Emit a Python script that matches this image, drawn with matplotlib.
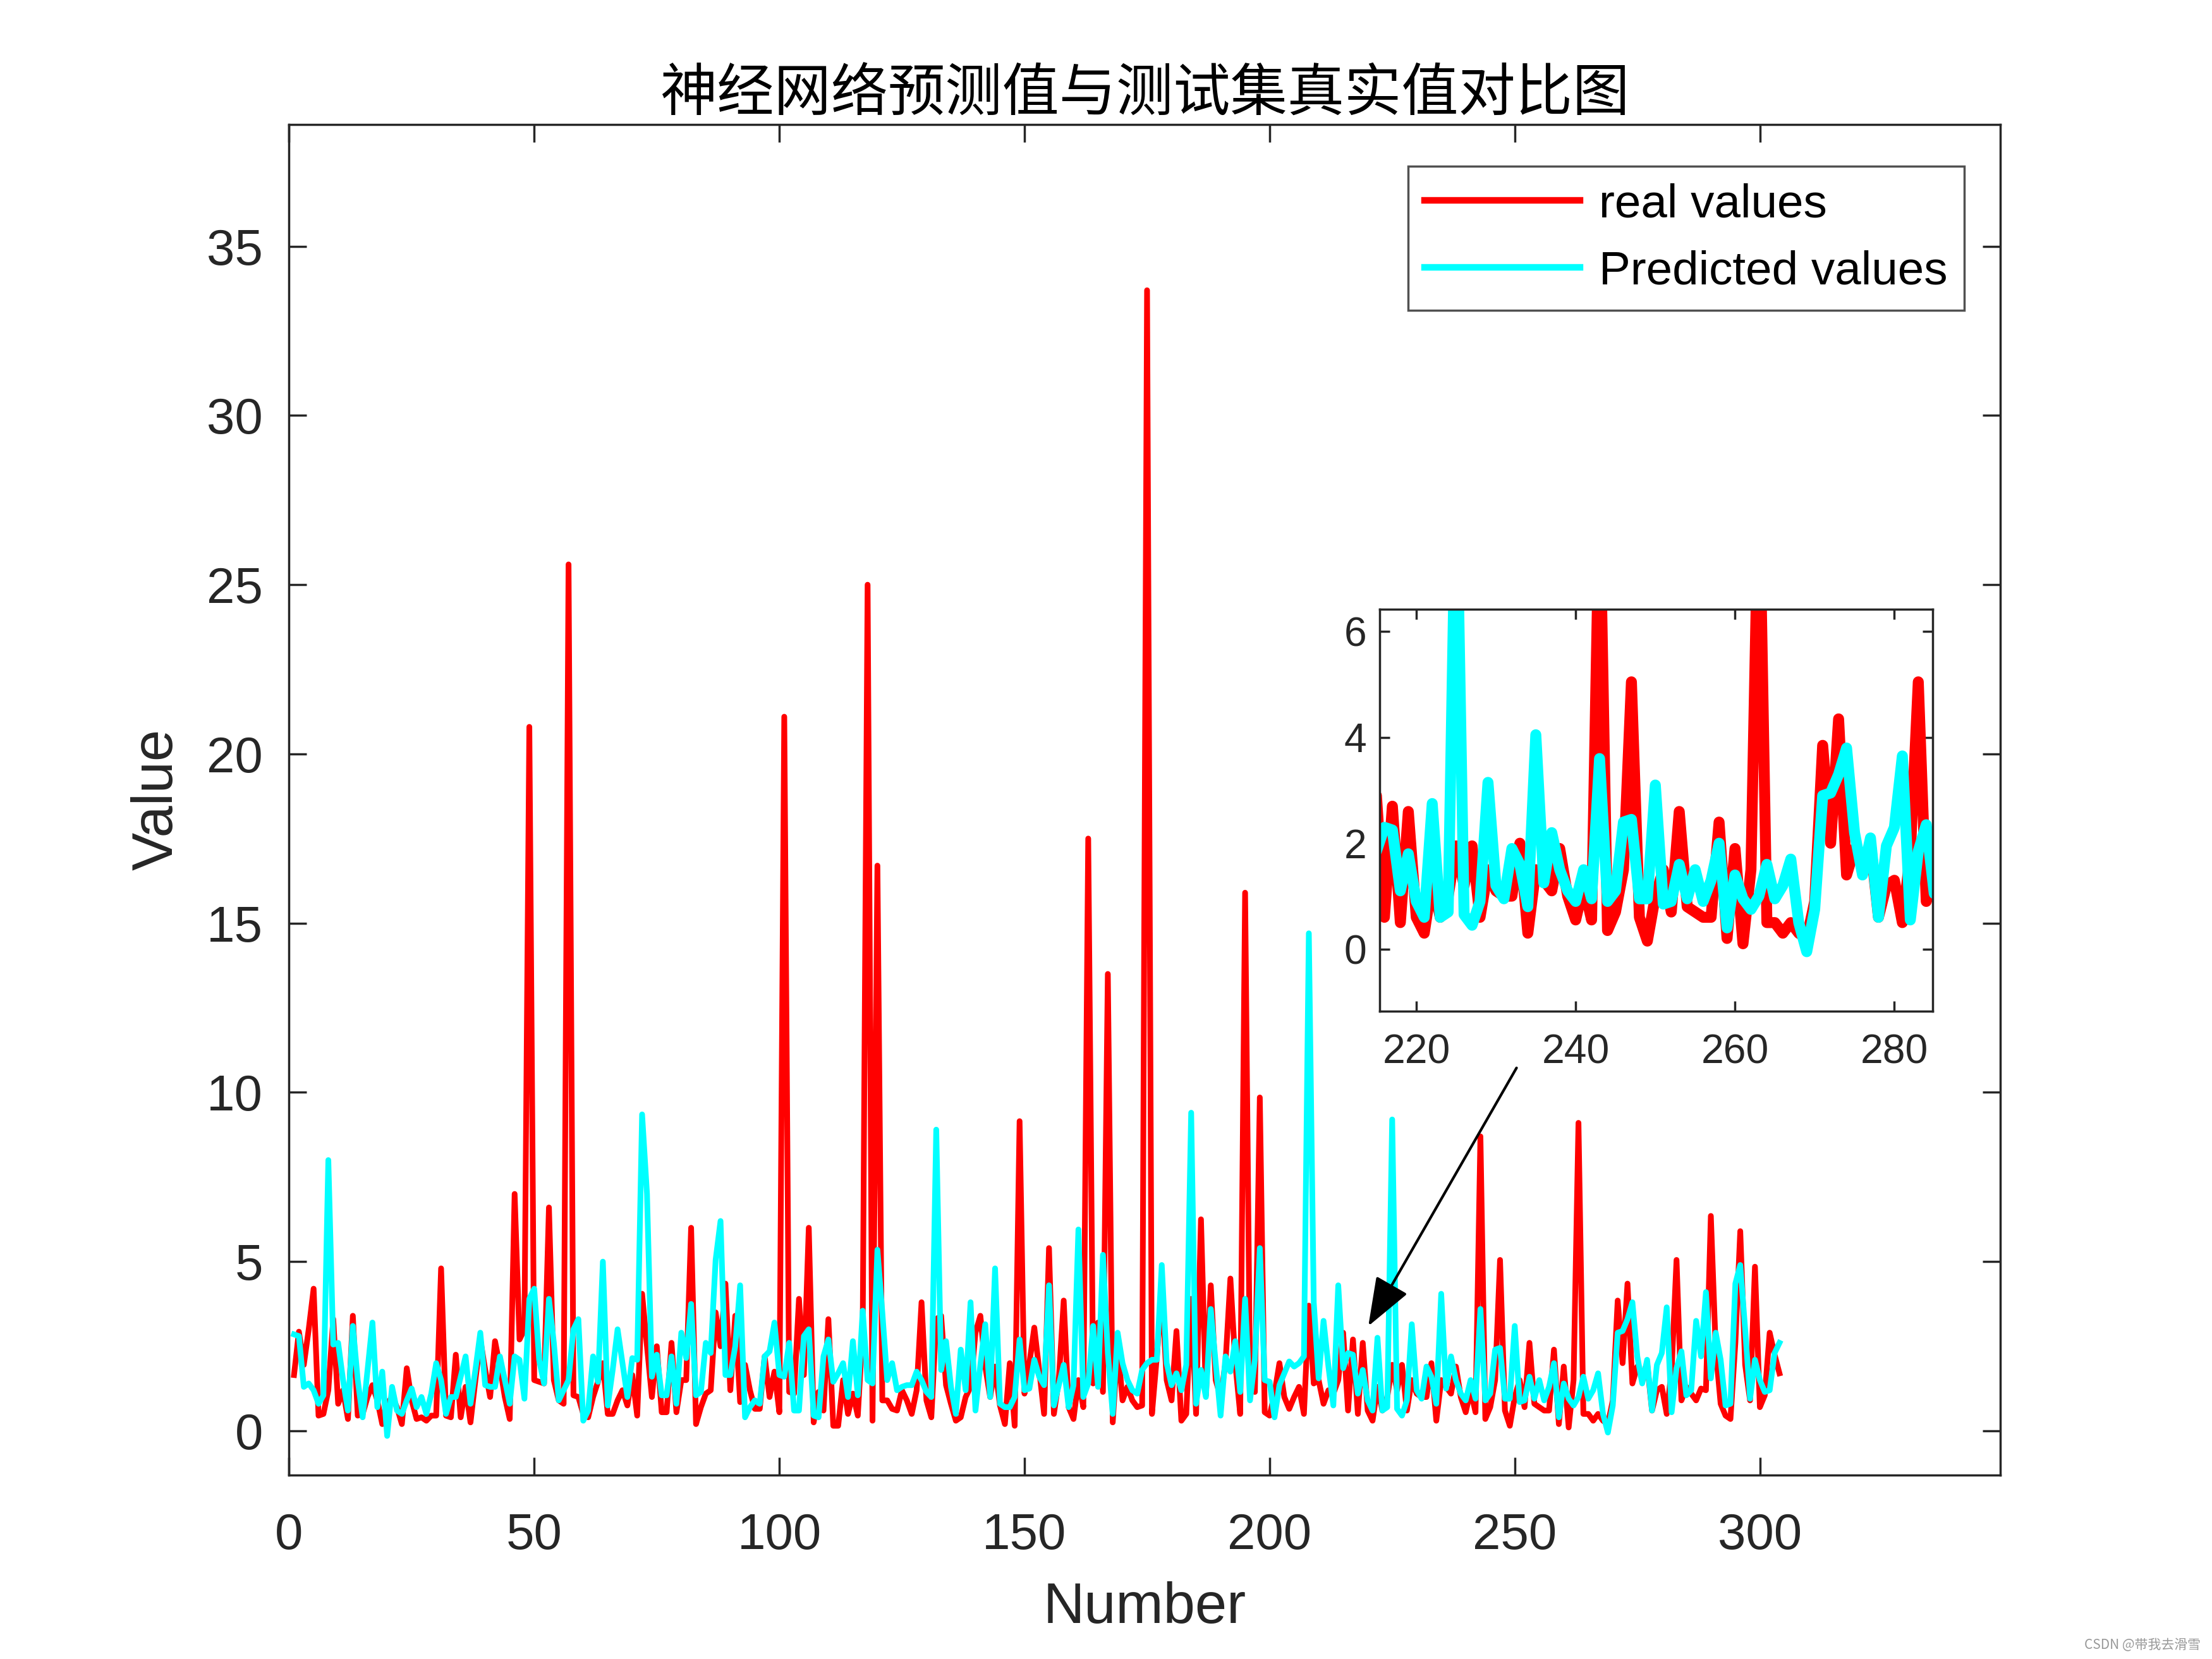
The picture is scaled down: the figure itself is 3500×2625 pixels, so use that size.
import matplotlib
matplotlib.use('Agg')
import matplotlib.pyplot as plt

# 测试集真实值 (real values), index 1..304
real_values = [
    1.65, 2.93, 1.95, 3.0, 4.2, 0.45, 0.5, 1.2, 3.3, 0.8,
    1.2, 0.35, 3.4, 0.45, 0.5, 1.0, 1.35, 0.9, 0.2, 0.8,
    1.0, 0.7, 0.2, 1.85, 0.9, 0.35, 0.4, 0.3, 0.45, 0.45,
    4.8, 0.45, 0.4, 2.25, 0.4, 1.3, 0.25, 1.5, 2.7, 1.8,
    1.0, 2.65, 1.9, 1.0, 0.35, 7.0, 2.7, 3.0, 20.8, 1.5,
    1.45, 1.4, 6.6, 1.5, 0.9, 0.8, 25.6, 1.05, 1.0, 0.5,
    0.4, 1.0, 1.45, 2.0, 0.5, 0.5, 0.9, 1.2, 0.75, 1.65,
    0.45, 4.05, 2.5, 1.0, 2.5, 0.55, 0.55, 2.6, 0.55, 1.5,
    1.5, 6.0, 0.2, 0.7, 1.1, 1.2, 3.5, 2.5, 4.35, 1.2,
    3.4, 0.85, 1.95, 1.2, 0.65, 0.65, 2.2, 1.0, 1.75, 0.55,
    21.1, 1.15, 1.1, 3.9, 1.65, 6.0, 0.25, 1.15, 0.6, 3.3,
    0.15, 0.15, 1.5, 0.5, 1.1, 0.45, 3.0, 25.0, 0.3, 16.7,
    0.9, 0.9, 0.65, 0.6, 1.2, 0.9, 0.5, 1.2, 3.8, 0.9,
    0.4, 3.3, 3.4, 1.35, 0.8, 0.3, 0.4, 1.0, 1.3, 2.9,
    3.4, 1.9, 1.0, 1.9, 0.75, 0.2, 2.0, 0.15, 9.15, 1.1,
    2.0, 3.05, 1.8, 0.5, 5.4, 0.5, 1.5, 3.85, 0.7, 0.35,
    1.5, 0.7, 17.5, 1.4, 3.2, 1.15, 13.5, 0.25, 2.55, 0.9,
    1.3, 0.9, 0.7, 0.75, 33.7, 0.5, 2.2, 4.2, 1.5, 0.9,
    2.95, 0.3, 0.5, 3.9, 0.5, 6.25, 1.05, 4.3, 1.5, 1.0,
    2.0, 4.5, 2.0, 0.5, 15.9, 1.5, 1.15, 9.85, 0.55, 0.45,
    1.1, 2.0, 1.0, 0.65, 1.0, 1.3, 0.5, 3.7, 1.4, 1.5,
    0.8, 1.2, 1.1, 1.5, 2.9, 0.6, 2.7, 0.5, 2.6, 0.6,
    0.3, 1.3, 0.6, 1.0, 1.95, 1.2, 1.95, 0.6, 1.5, 1.1,
    1.0, 1.0, 2.0, 0.3, 1.5, 1.3, 1.1, 1.9, 1.0, 0.55,
    1.2, 0.55, 8.7, 0.35, 0.7, 1.5, 5.05, 0.6, 0.15, 1.0,
    1.5, 0.7, 2.6, 0.8, 0.7, 0.6, 0.6, 2.4, 0.2, 1.9,
    0.1, 1.5, 9.1, 0.5, 0.5, 0.3, 0.5, 0.3, 0.2, 0.9,
    3.85, 2.0, 4.35, 1.4, 1.9, 1.6, 2.0, 0.6, 1.2, 1.3,
    0.5, 1.8, 5.05, 0.9, 1.3, 1.1, 0.9, 1.25, 1.2, 6.35,
    2.4, 0.8, 0.45, 0.35, 2.6, 5.9, 1.95, 0.9, 4.85, 0.7,
    1.05, 2.9, 2.25, 1.7,
]

# 神经网络预测值 (predicted values)
predicted_values = [
    2.85, 2.8, 1.3, 1.4, 1.2, 0.8, 1.05, 8.0, 2.55, 2.6,
    1.5, 0.6, 3.1, 1.5, 0.4, 1.8, 3.2, 0.7, 1.75, -0.15,
    1.3, 0.6, 0.5, 0.9, 1.25, 0.7, 1.0, 0.5, 1.1, 2.0,
    1.5, 0.5, 1.0, 1.0, 1.6, 2.2, 0.8, 1.8, 2.9, 1.35,
    1.3, 1.3, 2.2, 1.5, 0.8, 2.2, 2.1, 0.95, 3.9, 4.2,
    2.1, 1.4, 3.9, 2.6, 0.9, 1.2, 1.5, 3.0, 3.3, 0.3,
    0.6, 2.2, 1.45, 5.0, 0.75, 1.8, 3.0, 2.0, 1.0, 2.15,
    2.1, 9.35, 7.0, 1.6, 2.25, 1.05, 1.05, 2.2, 0.8, 2.9,
    2.15, 3.75, 1.05, 1.15, 2.6, 2.3, 5.05, 6.2, 1.65, 1.65,
    2.5, 4.3, 0.4, 0.7, 0.9, 0.8, 2.2, 2.35, 3.2, 1.65,
    1.6, 2.6, 0.6, 0.6, 2.8, 3.0, 0.45, 0.4, 2.2, 2.7,
    1.45, 1.7, 2.0, 1.0, 2.65, 1.05, 3.55, 1.5, 1.4, 5.35,
    3.5, 1.5, 2.0, 1.2, 1.3, 1.35, 1.35, 1.75, 1.5, 1.15,
    1.0, 8.9, 1.8, 2.65, 1.3, 0.5, 2.4, 1.2, 3.8, 0.6,
    1.95, 3.15, 1.0, 4.8, 0.8, 0.7, 0.7, 1.0, 2.7, 1.2,
    1.25, 2.1, 1.6, 1.35, 4.3, 0.75, 1.35, 1.95, 0.7, 1.35,
    5.95, 1.0, 1.4, 3.1, 1.3, 5.2, 2.3, 0.5, 2.9, 2.0,
    1.5, 1.2, 1.1, 1.8, 2.0, 2.1, 2.1, 4.9, 2.0, 1.35,
    1.7, 1.2, 1.95, 9.4, 0.8, 1.8, 1.0, 3.6, 2.0, 0.45,
    2.2, 1.75, 2.65, 1.15, 3.9, 0.9, 2.1, 5.4, 1.5, 1.45,
    0.4, 1.35, 1.7, 2.05, 1.9, 2.0, 2.2, 14.7, 3.8, 1.55,
    3.25, 1.9, 0.75, 4.3, 1.85, 2.3, 2.25, 1.1, 1.8, 0.9,
    0.6, 2.75, 0.6, 0.7, 9.2, 0.65, 0.45, 0.9, 3.15, 1.2,
    0.95, 1.9, 1.6, 0.8, 4.05, 1.25, 2.2, 1.5, 1.1, 0.9,
    1.5, 0.95, 3.6, 0.9, 1.1, 2.4, 2.45, 0.95, 0.95, 3.1,
    0.85, 0.9, 1.6, 0.95, 1.5, 0.9, 1.3, 2.0, 0.4, 1.4,
    0.95, 0.75, 1.0, 1.6, 0.95, 1.2, 1.7, 0.5, -0.05, 0.75,
    2.9, 2.95, 3.3, 3.8, 2.2, 1.4, 2.1, 0.6, 1.95, 2.3,
    3.65, 0.55, 1.85, 2.35, 1.05, 1.2, 3.25, 2.2, 4.1, 1.55,
    2.9, 2.1, 0.75, 0.8, 4.35, 4.9, 3.0, 0.95, 2.1, 1.5,
    1.15, 1.2, 2.3, 2.6,
]

sample_index = list(range(1, len(real_values) + 1))

title_text = '神经网络预测值与测试集真实值对比图'
legend_labels = ['real values', 'Predicted values']


def main():
    plt.rcParams['font.family'] = ['Liberation Sans', 'DejaVu Sans']
    axis_color = '#262626'

    fig = plt.figure(figsize=(14, 10.5), dpi=250)

    # 主图
    ax = fig.add_axes([0.1307, 0.111, 0.7735, 0.814])
    ax.plot(sample_index, real_values, color='#ff0000', linewidth=2.6, label=legend_labels[0])
    ax.plot(sample_index, predicted_values, color='#00ffff', linewidth=2.6, label=legend_labels[1])
    ax.set_xlim(0, 349)
    ax.set_ylim(-1.3, 38.6)
    ax.set_xticks(range(0, 301, 50))
    ax.set_yticks(range(0, 36, 5))
    ax.tick_params(direction='in', top=True, right=True, length=8, width=1,
                   labelsize=23, colors=axis_color)
    ax.tick_params(axis='x', pad=17)
    ax.tick_params(axis='y', pad=12)
    for s in ax.spines.values():
        s.set_color(axis_color)
        s.set_linewidth(1)
    ax.set_xlabel('Number', fontsize=26, color=axis_color, labelpad=10)
    ax.set_ylabel('Value', fontsize=26, color=axis_color, labelpad=10)
    ax.set_title(title_text, fontsize=26, family=['Noto Sans CJK SC', 'DejaVu Sans'],
                 color='black', pad=6)

    leg = ax.legend(loc='upper right', fontsize=21.5, handlelength=3.3, frameon=True,
                    fancybox=False, borderpad=0.35, labelspacing=0.5,
                    bbox_to_anchor=(0.979, 0.969), handletextpad=0.4, borderaxespad=0)
    leg.get_frame().set_edgecolor(axis_color)
    leg.get_frame().set_linewidth(1)
    for line in leg.get_lines():
        line.set_linewidth(3)

    # 局部放大图
    axin = fig.add_axes([0.6237, 0.3903, 0.25, 0.2424])
    axin.plot(sample_index, real_values, color='#ff0000', linewidth=5)
    axin.plot(sample_index, predicted_values, color='#00ffff', linewidth=5)
    axin.set_xlim(215.4, 284.8)
    axin.set_ylim(-1.18, 6.42)
    axin.set_xticks([220, 240, 260, 280])
    axin.set_yticks([0, 2, 4, 6])
    axin.tick_params(direction='in', top=True, right=True, length=4.5, width=1,
                     labelsize=18.5, colors=axis_color)
    axin.tick_params(axis='x', pad=10)
    axin.tick_params(axis='y', pad=6)
    for s in axin.spines.values():
        s.set_color(axis_color)
        s.set_linewidth(1)

    # 箭头
    ax.annotate('', xy=(0.6186, 0.2007), xycoords='figure fraction',
                xytext=(0.6856, 0.3563), textcoords='figure fraction',
                arrowprops=dict(arrowstyle='-|>,head_length=0.8,head_width=0.3',
                                color='black', linewidth=1.2, shrinkA=0, shrinkB=0,
                                mutation_scale=24))

    fig.text(0.995, 0.004, 'CSDN @带我去滑雪', fontsize=6, color='#999999', ha='right', va='bottom',
             family=['Noto Sans CJK SC', 'DejaVu Sans'])

    fig.savefig('out.png', dpi=250, facecolor='white')


if __name__ == "__main__":
    main()
